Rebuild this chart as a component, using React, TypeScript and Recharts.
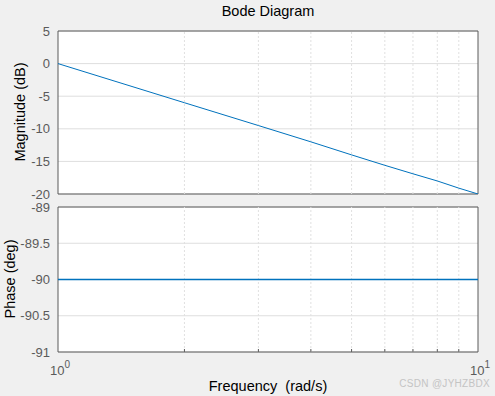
import { LineChart, Line, XAxis, YAxis, CartesianGrid, ReferenceLine, ReferenceArea } from 'recharts';

// frequency points (rad/s)
const freqs = [1, 2, 3, 4, 5, 6, 7, 8, 9, 10]
const magnitude = [0, -6, -9.5, -12, -14, -15.6, -16.9, -18, -19.1, -20]
const phase = [-90, -90, -90, -90, -90, -90, -90, -90, -90, -90]

const magTicks = [-20, -15, -10, -5, 0, 5]
const phaseTicks = [-91, -90.5, -90, -89.5, -89]
const freqTicks = [1, 2, 3, 4, 5, 6, 7, 8, 9, 10]
const minorGrid = [2, 3, 4, 5, 6, 7, 8, 9]

const magData = freqs.map((f, i) => ({ f, v: magnitude[i] }))
const phaseData = freqs.map((f, i) => ({ f, v: phase[i] }))

const FONT = '"Liberation Sans", Arial, sans-serif'
const TICK = { fontSize: 13, fill: '#5a5a5a', fontFamily: FONT }
const BOX = '#5a5a5a'
const LINE = '#0072BD'

const isDecade = (v: number) => Math.abs(Math.log10(v) - Math.round(Math.log10(v))) < 1e-9

// bottom edge: small inward tick, decade labels like 10^0
const BottomTick = (props: any) => {
    const { x, y, payload, labels } = props
    const v = payload.value
    return (
        <g>
            {!isDecade(v) && <line x1={x} x2={x} y1={y} y2={y - 3} stroke={BOX} />}
            {labels && isDecade(v) && (
                <text x={x + 2} y={y + 23} textAnchor="middle" fill="#5a5a5a" fontSize={13} fontFamily={FONT}>
                    <tspan>10</tspan>
                    <tspan dy={-7} fontSize={10}>{Math.round(Math.log10(v))}</tspan>
                </text>
            )}
        </g>
    )
}

const TopTick = (props: any) => {
    const { x, y, payload } = props
    if (isDecade(payload.value)) return <g />
    return <line x1={x} x2={x} y1={y} y2={y + 3} stroke={BOX} />
}

const Panel = ({ data, domain, ticks, top, height, bottom, labels, width }: any) => (
    <LineChart width={495} height={height} data={data}
        margin={{ top, right: 17, left: 0, bottom }}
        style={{ position: 'absolute', left: 0, top: 0 }}>
        <CartesianGrid vertical={false} stroke="#dedede" fill="#ffffff" />
        {minorGrid.map(g => (
            <ReferenceLine key={g} x={g} stroke="#e0e0e0" strokeDasharray="2 2" />
        ))}
        <XAxis dataKey="f" type="number" scale="log" domain={[1, 10]} allowDataOverflow
            ticks={freqTicks} interval={0} tick={<BottomTick labels={labels} />}
            height={labels ? 44 : 0} axisLine={false} tickLine={false} tickSize={0} tickMargin={0} />
        <XAxis xAxisId="top" orientation="top" dataKey="f" type="number" scale="log" domain={[1, 10]} allowDataOverflow
            ticks={freqTicks} interval={0} tick={<TopTick />}
            height={0} axisLine={false} tickLine={false} tickSize={0} tickMargin={0} />
        <YAxis type="number" domain={domain} ticks={ticks} width={58} interval={0}
            tick={TICK} axisLine={false} tickLine={false} tickSize={0} tickMargin={8} allowDataOverflow />
        <ReferenceArea x1={1} x2={10} y1={domain[0]} y2={domain[1]} fill="none" stroke={BOX} strokeWidth={1} ifOverflow="visible" />
        <Line dataKey="v" stroke={LINE} strokeWidth={width} dot={false} isAnimationActive={false} />
    </LineChart>
)

export default function App() {
    return (
        <div style={{ position: 'fixed', left: 0, top: 0, width: 495, height: 396, background: '#f0f0f0', fontFamily: FONT, overflow: 'hidden' }}>
            <Panel data={magData} domain={[-20, 5]} ticks={magTicks} top={31} height={210} bottom={16} labels={false} width={1} />
            <div style={{ position: 'absolute', left: 0, top: 0 }}>
                <Panel data={phaseData} domain={[-91, -89]} ticks={phaseTicks} top={207} height={396} bottom={0} labels={true} width={1.5} />
            </div>
            <div style={{ position: 'absolute', left: 0, width: 536, top: 3, textAlign: 'center', fontSize: 14.5, color: '#000' }}>Bode Diagram</div>
            <div style={{ position: 'absolute', left: 0, width: 536, top: 378, textAlign: 'center', fontSize: 14.5, color: '#000', whiteSpace: 'pre' }}>Frequency  (rad/s)</div>
            <div style={{ position: 'absolute', left: 20, top: 112, width: 0, height: 0 }}>
                <div style={{ position: 'absolute', transform: 'translate(-50%, -50%) rotate(-90deg)', whiteSpace: 'nowrap', fontSize: 14.5, color: '#000' }}>Magnitude (dB)</div>
            </div>
            <div style={{ position: 'absolute', left: 10, top: 279, width: 0, height: 0 }}>
                <div style={{ position: 'absolute', transform: 'translate(-50%, -50%) rotate(-90deg)', whiteSpace: 'nowrap', fontSize: 14.5, color: '#000' }}>Phase (deg)</div>
            </div>
            <div style={{ position: 'absolute', right: 5, top: 378, fontSize: 10, color: '#c4c4c4', letterSpacing: 0.3 }}>CSDN @JYHZBDX</div>
        </div>
    )
}
